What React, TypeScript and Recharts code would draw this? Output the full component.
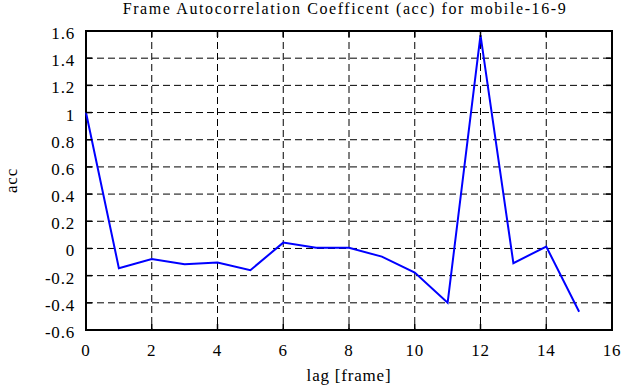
import React from 'react';
import { LineChart, Line, XAxis, YAxis, CartesianGrid, ReferenceArea } from 'recharts';

const lags = [0, 1, 2, 3, 4, 5, 6, 7, 8, 9, 10, 11, 12, 13, 14, 15];
const accValues = [1.0, -0.145, -0.078, -0.117, -0.104, -0.16, 0.043, 0.005, 0.005, -0.06, -0.177, -0.4, 1.57, -0.108, 0.014, -0.466];
const xTicks = [0, 2, 4, 6, 8, 10, 12, 14, 16];
const xTickLabels = ['0', '2', '4', '6', '8', '10', '12', '14', '16'];
const yTicks = [-0.6, -0.4, -0.2, 0, 0.2, 0.4, 0.6, 0.8, 1, 1.2, 1.4, 1.6];
const yTickLabels = ['-0.6', '-0.4', '-0.2', '0', '0.2', '0.4', '0.6', '0.8', '1', '1.2', '1.4', '1.6'];

const title = 'Frame Autocorrelation Coefficent (acc) for mobile-16-9';
const xLabel = 'lag [frame]';
const yLabel = 'acc';

const data = lags.map((lag, i) => ({ lag, acc: accValues[i] }));

const W = 630;
const H = 387;
const M = { top: 31, right: 18, left: 0, bottom: 0 };
const YW = 86;
const XH = 57;
const PL = M.left + YW;
const PR = W - M.right;
const PT = M.top;
const PB = H - XH;
const FONT = '"Liberation Serif", "Times New Roman", serif';
const TICK_LEN = 6;
const textStyle = { fontFamily: FONT, fontSize: 17, letterSpacing: 0.8, fill: '#000' };

const YTick = (props: any) => {
  const { x, y, payload } = props;
  const label = yTickLabels[yTicks.indexOf(payload.value)] ?? String(payload.value);
  return (
    <g>
      <line x1={PL} x2={PL + TICK_LEN} y1={y} y2={y} stroke="#000" strokeWidth={1.5} />
      <line x1={PR} x2={PR - TICK_LEN} y1={y} y2={y} stroke="#000" strokeWidth={1.5} />
      <text x={x} y={y} dy="0.47em" textAnchor="end" style={textStyle}>
        {label}
      </text>
    </g>
  );
};

const XTick = (props: any) => {
  const { x, y, payload } = props;
  const label = xTickLabels[xTicks.indexOf(payload.value)] ?? String(payload.value);
  return (
    <g>
      <line x1={x} x2={x} y1={PB} y2={PB - TICK_LEN} stroke="#000" strokeWidth={1.5} />
      <line x1={x} x2={x} y1={PT} y2={PT + TICK_LEN} stroke="#000" strokeWidth={1.5} />
      <text x={x} y={y} dy="0.75em" textAnchor="middle" style={textStyle}>
        {label}
      </text>
    </g>
  );
};

export default function App() {
  return (
    <div style={{ position: 'absolute', left: 0, top: 0, width: W, height: H, background: '#fff' }}>
      <div
        style={{
          position: 'absolute',
          left: PL - 4,
          width: PR - PL,
          top: -1,
          textAlign: 'center',
          fontFamily: FONT,
          fontSize: 16,
          lineHeight: '20px',
          letterSpacing: 1.6,
          color: '#000',
          whiteSpace: 'nowrap',
        }}
      >
        {title}
      </div>
      <LineChart width={W} height={H} data={data} margin={M}>
        <CartesianGrid stroke="#000" strokeWidth={1} strokeDasharray="7 4" horizontalValues={yTicks} verticalValues={xTicks} />
        <XAxis
          dataKey="lag"
          type="number"
          domain={[0, 16]}
          ticks={xTicks}
          height={XH}
          axisLine={false}
          tickLine={false}
          tickSize={0}
          tickMargin={13}
          tick={<XTick />}
          interval={0}
          label={{ value: xLabel, position: 'insideBottom', offset: 6, style: textStyle }}
        />
        <YAxis
          type="number"
          domain={[-0.6, 1.6]}
          ticks={yTicks}
          width={YW}
          axisLine={false}
          tickLine={false}
          tickSize={0}
          tickMargin={11}
          tick={<YTick />}
          interval={0}
          label={{ value: yLabel, angle: -90, position: 'insideLeft', offset: 11, style: { ...textStyle, textAnchor: 'middle' } }}
        />
        <ReferenceArea x1={0} x2={16} y1={-0.6} y2={1.6} fill="none" fillOpacity={0} stroke="#000" strokeWidth={2} strokeOpacity={1} ifOverflow="visible" />
        <Line type="linear" dataKey="acc" stroke="#0000ff" strokeWidth={2} dot={false} isAnimationActive={false} />
      </LineChart>
    </div>
  );
}
